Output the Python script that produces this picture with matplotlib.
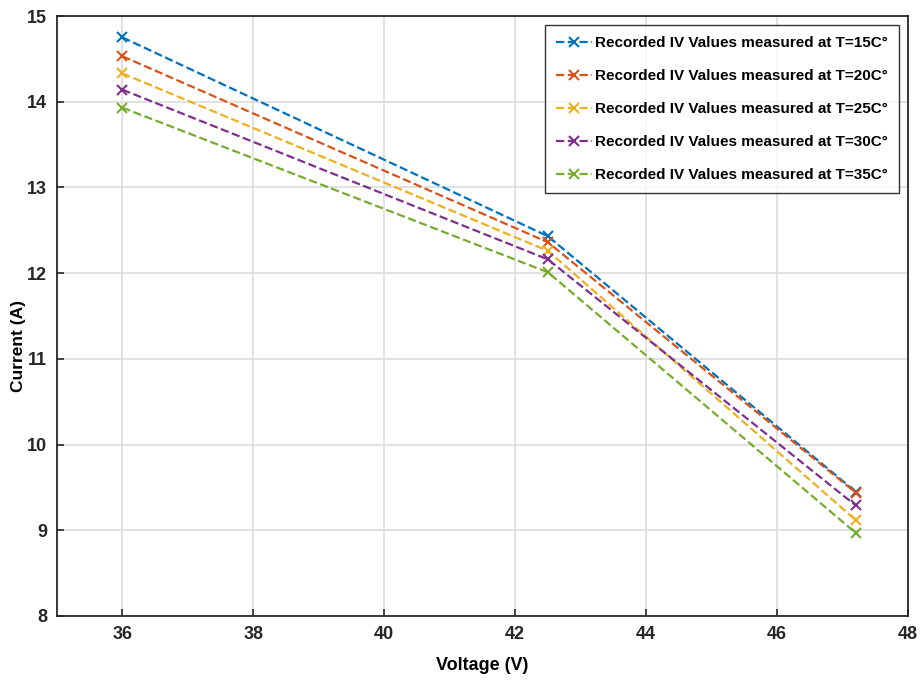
import matplotlib
matplotlib.use("Agg")
import matplotlib.pyplot as plt

# Data
voltage = [36.0, 42.5, 47.2]
current_15 = [14.75, 12.43, 9.45]
current_20 = [14.53, 12.36, 9.44]
current_25 = [14.33, 12.26, 9.12]
current_30 = [14.14, 12.16, 9.29]
current_35 = [13.93, 12.01, 8.97]
temps = ["15", "20", "25", "30", "35"]
colors = ["#0072BD", "#D95319", "#EDB120", "#7E2F8E", "#77AC30"]

plt.rcParams["font.family"] = ["Liberation Sans", "DejaVu Sans"]
plt.rcParams["font.weight"] = "bold"

fig = plt.figure(figsize=(9.21, 6.96), dpi=100)
ax = fig.add_axes([57 / 921, 1 - 616 / 696, (908 - 57) / 921, (616 - 16) / 696])

series = [current_15, current_20, current_25, current_30, current_35]
for temp, vals, c in zip(temps, series, colors):
    ax.plot(voltage, vals, linestyle="--", marker="x", color=c, linewidth=1.6,
            markersize=7, markeredgewidth=1.5,
            label=f"Recorded IV Values measured at T={temp}C\u00b0")

ax.set_xlim(35, 48)
ax.set_ylim(8, 15)
ax.set_xticks(range(36, 49, 2))
ax.set_yticks(range(8, 16))
ax.grid(True, color="#dcdcdc", linewidth=1.2)
ax.set_axisbelow(True)
ax.tick_params(direction="in", length=5, width=1.2, colors="#262626", labelsize=13, pad=7)
for s in ax.spines.values():
    s.set_color("#262626")
    s.set_linewidth(1.3)

ax.set_xlabel("Voltage (V)", fontsize=13, fontweight="bold", labelpad=10)
ax.set_ylabel("Current (A)", fontsize=12.5, fontweight="bold")
ax.yaxis.set_label_coords(-38 / 851, 0.45)
ax.yaxis.label.set_va("center")

leg = ax.legend(loc="upper right", fontsize=11, frameon=True, fancybox=False,
                edgecolor="black", handlelength=2.4, handletextpad=0.2,
                borderpad=0.7, labelspacing=1.25, borderaxespad=0.6)
leg.get_frame().set_linewidth(1.0)

fig.savefig("out.png", dpi=100)
